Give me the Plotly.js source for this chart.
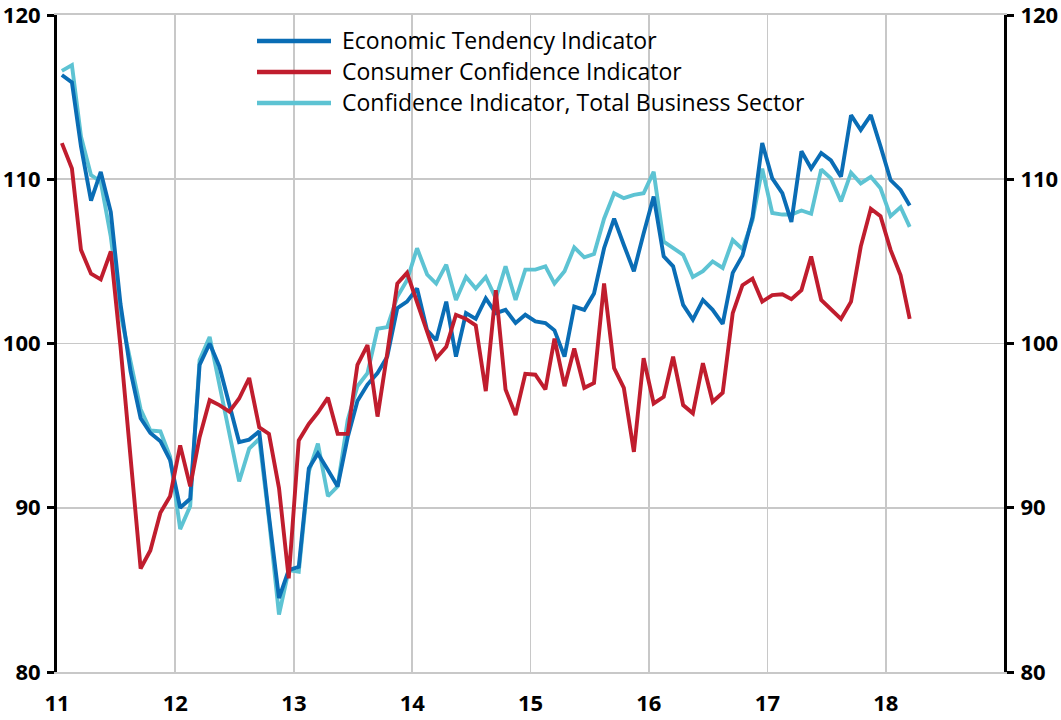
<!DOCTYPE html>
<html>
<head>
<meta charset="utf-8">
<script src="https://cdn.plot.ly/plotly-3.0.1.min.js"></script>
<style>
  html, body { margin: 0; padding: 0; background: #ffffff; }
  #chart { width: 1061px; height: 720px; }
</style>
</head>
<body>
<div id="chart"></div>
<script>
// ---- Data (monthly, Jan 2011 - Mar 2018) ----
const startYear = 2011;
const seriesNames = [
  "Economic Tendency Indicator",
  "Consumer Confidence Indicator",
  "Confidence Indicator, Total Business Sector"
];
const economicTendency = [
  116.35, 115.9, 112.0, 108.7, 110.45, 108.0, 102.4, 98.3, 95.45, 94.55,
  94.05, 92.9, 90.0, 90.55, 98.7, 100.0, 98.6, 96.15, 94.0, 94.15,
  94.65, 89.5, 84.5, 86.2, 86.4, 92.4, 93.3, 92.3, 91.3, 94.3,
  96.5, 97.5, 98.2, 99.2, 102.15, 102.55, 103.35, 100.8, 100.2, 102.55,
  99.2, 101.85, 101.5, 102.75, 101.85, 102.05, 101.25, 101.75, 101.35, 101.25,
  100.8, 99.2, 102.25, 102.05, 103.05, 105.8, 107.6, 106.0, 104.4, 106.7,
  108.95, 105.3, 104.7, 102.35, 101.45, 102.65, 102.05, 101.2, 104.3, 105.35,
  107.7, 112.2, 110.05, 109.15, 107.4, 111.7, 110.65, 111.6, 111.15, 110.15,
  113.9, 113.0, 113.9, 112.0, 109.95, 109.35, 108.4
];
const consumerConfidence = [
  112.2, 110.65, 105.7, 104.25, 103.9, 105.6, 99.8, 93.1, 86.3, 87.4,
  89.7, 90.7, 93.8, 91.3, 94.3, 96.55, 96.25, 95.85, 96.65, 97.9,
  94.9, 94.5, 91.2, 85.7, 94.1, 95.1, 95.8, 96.7, 94.5, 94.5,
  98.7, 99.9, 95.55, 99.4, 103.65, 104.3, 102.55, 100.8, 99.1, 99.8,
  101.75, 101.5, 101.1, 97.1, 103.25, 97.2, 95.65, 98.15, 98.1, 97.2,
  100.3, 97.4, 99.7, 97.3, 97.6, 103.65, 98.5, 97.3, 93.4, 99.1,
  96.35, 96.75, 99.2, 96.25, 95.75, 98.8, 96.45, 97.0, 101.85, 103.55,
  103.95, 102.55, 102.95, 103.0, 102.7, 103.25, 105.3, 102.65, 102.05, 101.5,
  102.55, 105.9, 108.2, 107.75, 105.7, 104.15, 101.5
];
const businessConfidence = [
  116.6, 116.95, 112.6, 110.25, 109.85, 106.5, 101.8, 98.8, 96.0, 94.7,
  94.65, 93.1, 88.7, 90.1, 99.0, 100.4, 97.4, 94.6, 91.6, 93.6,
  94.2, 89.3, 83.5, 86.2, 86.1, 92.2, 93.9, 90.7, 91.3, 95.35,
  97.4, 98.2, 100.9, 101.0, 102.85, 103.85, 105.8, 104.2, 103.65, 104.8,
  102.65, 104.05, 103.35, 104.05, 102.75, 104.7, 102.65, 104.5, 104.5, 104.7,
  103.65, 104.4, 105.85, 105.25, 105.45, 107.6, 109.15, 108.85, 109.05, 109.15,
  110.45, 106.2, 105.8, 105.4, 104.05, 104.4, 105.0, 104.6, 106.3, 105.75,
  107.5, 110.65, 107.95, 107.85, 107.85, 108.1, 107.9, 110.6, 110.05, 108.65,
  110.4, 109.75, 110.15, 109.45, 107.75, 108.3, 107.1
];
const yearTicks = [2011, 2012, 2013, 2014, 2015, 2016, 2017, 2018];
const yearTickText = ["11", "12", "13", "14", "15", "16", "17", "18"];
const yTicks = [80, 90, 100, 110, 120];

// month categories (mid-month dates)
const months = economicTendency.map((_, i) => {
  const y = startYear + Math.floor(i / 12);
  const m = (i % 12) + 1;
  return y + "-" + String(m).padStart(2, "0") + "-16";
});

const colors = ["#0a6db5", "#c01d2e", "#5dc3d3"];
const seriesValues = [economicTendency, consumerConfidence, businessConfidence];

const drawOrder = [2, 0, 1];
const traces = drawOrder.map(k => ({
  type: "scatter",
  mode: "lines",
  name: seriesNames[k],
  x: months,
  y: seriesValues[k],
  line: { color: colors[k], width: 3.9 },
  hoverinfo: "x+y+name",
  showlegend: false
}));
// empty trace to attach the mirrored right axis
traces.push({ type: "scatter", mode: "lines", x: [], y: [], yaxis: "y2", showlegend: false, hoverinfo: "skip" });

// manual legend (long line samples like the original)
const L = 57, R = 1004, T = 15, B = 672;
const px = v => (v - L) / (R - L);
const py = v => 1 - (v - T) / (B - T);
const legendRows = [41, 72, 103];
const shapes = [];
const annotations = [];
[0, 1, 2].forEach(k => {
  shapes.push({
    type: "line", xref: "paper", yref: "paper",
    x0: px(257), x1: px(331), y0: py(legendRows[k]), y1: py(legendRows[k]),
    line: { color: colors[k], width: 4.5 }
  });
  annotations.push({
    xref: "paper", yref: "paper", x: px(340), y: py(legendRows[k] - 1),
    xanchor: "left", yanchor: "middle", showarrow: false,
    text: seriesNames[k],
    font: { family: "'Open Sans', Lato, sans-serif", size: 23, color: "#000000" }
  });
});

const tickFont = { family: "'Open Sans', Lato, sans-serif", size: 22, color: "#000000", weight: "bold" };
const yCommon = {
  range: [80, 120],
  tickvals: yTicks,
  ticktext: yTicks.map(String),
  showline: true, linecolor: "#000000", linewidth: 3,
  ticks: "outside", ticklen: 7, tickwidth: 3, tickcolor: "#000000",
  tickfont: tickFont,
  ticklabeloverflow: "allow",
  zeroline: false,
  fixedrange: true
};

const layout = {
  width: 1061, height: 720,
  margin: { l: 57, r: 57, t: 15, b: 48, pad: 0 },
  paper_bgcolor: "#ffffff",
  plot_bgcolor: "#ffffff",
  showlegend: false,
  xaxis: {
    type: "date",
    range: ["2011-01-01", "2019-01-01"],
    tickvals: yearTicks.map(y => y + "-01-01"),
    ticktext: yearTickText,
    showgrid: true, gridcolor: "#c8c8c8", gridwidth: 1.6,
    showline: true, linecolor: "#c8c8c8", linewidth: 1.6, mirror: true,
    zeroline: false,
    ticks: "",
    ticklabelstandoff: 11,
    ticklabeloverflow: "allow",
    tickfont: tickFont
  },
  yaxis: Object.assign({}, yCommon, {
    side: "left",
    showgrid: true, gridcolor: "#c8c8c8", gridwidth: 1.6,
    ticklabelstandoff: 2
  }),
  yaxis2: Object.assign({}, yCommon, {
    side: "right", overlaying: "y", anchor: "x",
    showgrid: false,
    ticklabelstandoff: 2
  }),
  shapes: shapes,
  annotations: annotations
};

Plotly.newPlot("chart", traces, layout, { displayModeBar: false, staticPlot: true });
</script>
</body>
</html>
